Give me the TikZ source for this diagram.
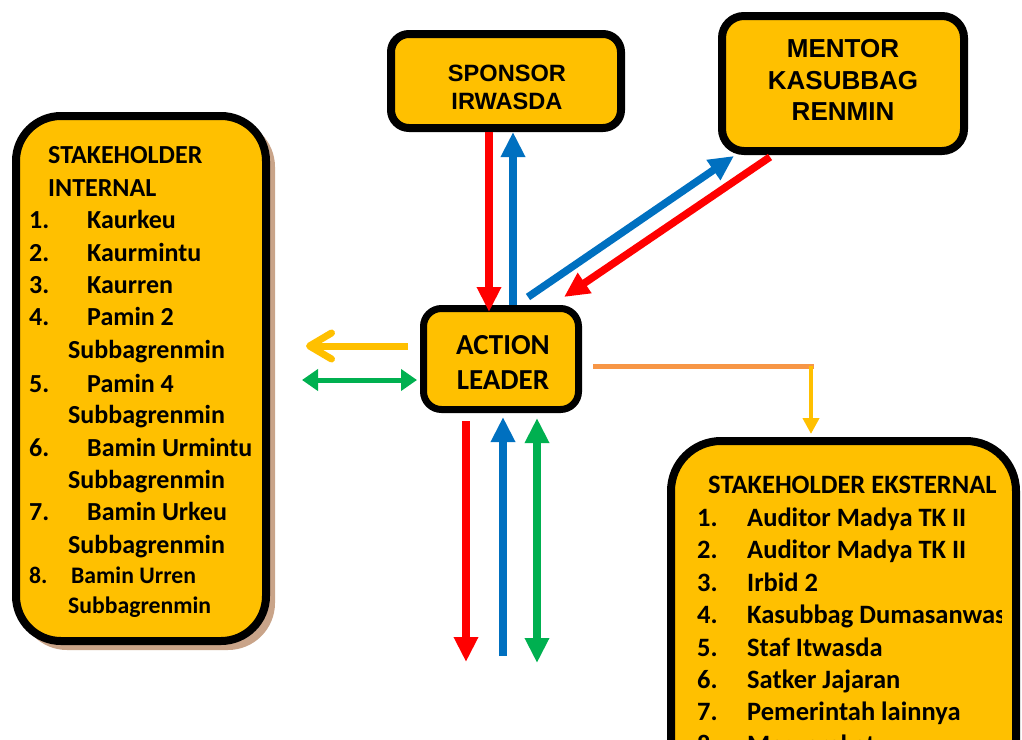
\documentclass[tikz,border=0pt]{standalone}
\usepackage{fontspec}
\usetikzlibrary{arrows.meta,calc}
\newfontfamily\calfont{Carlito}
\newfontfamily\arfont{Liberation Sans}
\definecolor{gold}{HTML}{FFC000}
\definecolor{myred}{HTML}{FF0000}
\definecolor{myblue}{HTML}{0070C0}
\definecolor{mygreen}{HTML}{00B050}
\definecolor{myorange}{HTML}{F79646}
\definecolor{shadowtan}{HTML}{C9A489}
\begin{document}
\begin{tikzpicture}[x=1pt,y=-1pt,
  box/.style={draw=black, fill=gold, line width=8pt, inner sep=0pt},
  itxt/.style={anchor=base west, inner sep=0pt, font=\calfont\bfseries\fontsize{26}{32}\selectfont},
  itxtsmall/.style={anchor=base west, inner sep=0pt, font=\calfont\bfseries\fontsize{23.7}{29}\selectfont},
  etxt/.style={anchor=base west, inner sep=0pt, font=\calfont\bfseries\fontsize{26.5}{32}\selectfont},
  fat/.style={line width=7.5pt, -{Triangle[length=25pt,width=23pt]}},
  fatboth/.style={line width=7.5pt, {Triangle[length=25pt,width=23pt]}-{Triangle[length=25pt,width=23pt]}},
]
\useasboundingbox (0,0) rectangle (1022,739);
\clip (0,0) rectangle (1022,739);

% internal stakeholder box with shadow
\fill[shadowtan, rounded corners=47pt] (20,120) rectangle (275,650);
\node[box, rounded corners=45pt, minimum width=250pt, minimum height=525pt] (int) at (141,378.5) {};

% external stakeholder box
\node[box, draw=none, rounded corners=50pt, minimum width=345pt, minimum height=459pt] (ext) at (843.5,670.5) {};

% internal text
\foreach \n/\x/\y/\t in {h1/48/163/STAKEHOLDER, h2/48/196/INTERNAL,
  n1/29/228/1., n2/29/261/2., n3/29/293/3., n4/29/325/4., n5/29/392/5., n6/29/456/6., n7/29/520/7.,
  t1/87/228/Kaurkeu, t2/87/261/Kaurmintu, t3/87/293/Kaurren, t4/87/325/Pamin 2, s4/68/358/Subbagrenmin,
  t5/87/392/Pamin 4, s5/68/423/Subbagrenmin, t6/87/456/Bamin Urmintu, s6/68/488/Subbagrenmin,
  t7/87/520/Bamin Urkeu, s7/68/553/Subbagrenmin}
  \node[itxt] (i\n) at (\x,\y) {\t};
\foreach \n/\x/\y/\t in {n8/29/583/8., t8/71/583/Bamin Urren, s8/68/613/Subbagrenmin}
  \node[itxtsmall] (i\n) at (\x,\y) {\t};

% external text
\begin{scope}
\clip (660,430) rectangle (1001,760);
\node[etxt] (eh) at (708,493) {STAKEHOLDER EKSTERNAL};
\foreach \n/\y/\t in {1/526/Auditor Madya TK II, 2/558/Auditor Madya TK II, 3/591/Irbid 2,
  4/623/Kasubbag Dumasanwas, 5/656/Staf Itwasda, 6/688/Satker Jajaran, 7/720/Pemerintah lainnya, 8/753/Masyarakat}{
  \node[etxt] (en\n) at (697,\y) {\n.};
  \node[etxt] (et\n) at (747,\y) {\t};
}
\end{scope}
\draw[line width=8pt, rounded corners=50pt] (ext.south west) ++(4,-4) |- (1016,441) -- (1016,900);

% top boxes
\node[box, rounded corners=18pt, minimum width=230pt, minimum height=94pt] (spon) at (506,81) {};
\node[font=\arfont\bfseries\fontsize{23.6}{28}\selectfont, align=center, inner sep=0pt] (sponT) at (507,87) {SPONSOR\\IRWASDA};
\node[box, rounded corners=22pt, minimum width=242pt, minimum height=135pt] (men) at (843,83.5) {};
\node[font=\arfont\bfseries\fontsize{26}{31.5}\selectfont, align=center, inner sep=0pt] (menT) at (843,80) {MENTOR\\KASUBBAG\\RENMIN};
\node[box, line width=7pt, rounded corners=18pt, minimum width=155pt, minimum height=101pt] (act) at (501,359) {};
\node[font=\calfont\bfseries\fontsize{29}{35}\selectfont, align=center, inner sep=0pt] (actT) at (503,362.5) {ACTION\\LEADER};

% sponsor <-> action
\draw[fat, myred] ([xshift=-17pt]spon.south) -- ([xshift=-17pt,yshift=-7pt]spon.south |- act.north);
\draw[fat, myblue] ([xshift=7pt]spon.south |- act.north) -- ([xshift=7pt]spon.south);

% mentor <-> action
\draw[fat, myblue] ([xshift=27pt,yshift=8pt]act.north) -- ([xshift=16pt,yshift=-1pt]men.south west);
\draw[fat, myred] ([xshift=52pt,yshift=-2pt]men.south west) -- ([xshift=63pt,yshift=8pt]act.north);

% left arrows
\coordinate (ytip) at (306,346);
\coordinate (gtip) at (302,380);
\draw[gold, line width=7pt, -{Straight Barb[length=22pt,width=26pt,round]}] ([xshift=-12pt,yshift=13pt]act.west) -- (ytip);
\draw[mygreen, line width=5pt, {Triangle[length=16pt,width=21pt]}-{Triangle[length=16pt,width=21pt]}] (gtip) -- ([xshift=-3pt,yshift=-21pt]act.west);

% bottom arrows
\coordinate (rb) at (466,662);
\coordinate (bb) at (503,656);
\coordinate (gb) at (537,663);
\draw[fat, myred] ([xshift=-35pt,yshift=-8pt]act.south) -- (rb);
\draw[fat, myblue] (bb) -- ([xshift=2pt,yshift=-4pt]act.south);
\draw[fatboth, mygreen] ([xshift=36pt,yshift=-5pt]act.south) -- (gb);

% action -> external
\coordinate (oS) at ([xshift=13pt,yshift=-7pt]act.east);
\coordinate (eN) at ([xshift=-32.5pt]ext.north);
\draw[myorange, line width=5pt, line cap=rect] (oS) -- (eN |- oS);
\draw[gold, line width=4pt, -{Triangle[length=16pt,width=16pt]}, shorten >=3pt] (eN |- oS) -- (eN);
\end{tikzpicture}
\end{document}
